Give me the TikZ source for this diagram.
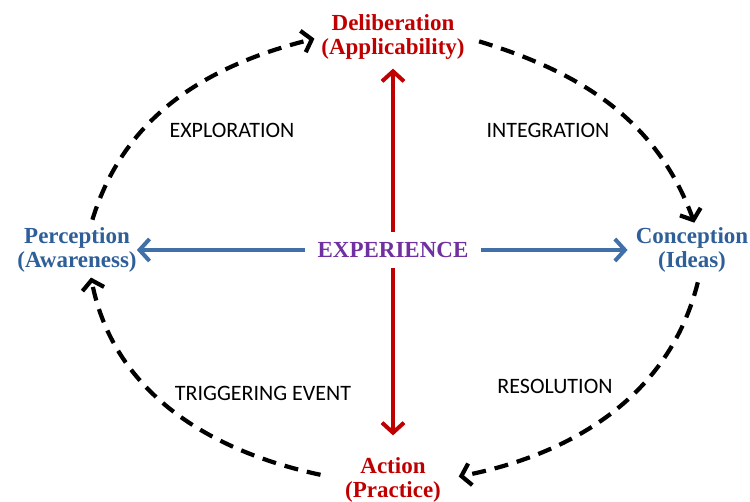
\documentclass[tikz,border=0pt]{standalone}
\usepackage{fontspec}
\setmainfont{Liberation Serif}
\newfontfamily\phasefont{Carlito}
\usepackage{xcolor}
\usetikzlibrary{arrows.meta}
\definecolor{delred}{HTML}{C00000}
\definecolor{nodeblue}{HTML}{2F5F98}
\definecolor{arrowblue}{HTML}{4170A8}
\definecolor{exppurple}{HTML}{7030A0}

\begin{document}
\begin{tikzpicture}[x=1pt,y=1pt,
    stage/.style={font=\fontsize{23}{24}\selectfont\bfseries,align=center,inner sep=0pt},
    phase/.style={font=\phasefont\fontsize{22}{24}\selectfont,inner sep=0pt},
    loopedge/.style={line width=4.2pt,dash pattern=on 14pt off 9pt,-{Straight Barb[length=9pt,width=22pt]}},
    crossarrow/.style={line width=4pt,-{Straight Barb[length=10pt,width=22pt]}}]
    \useasboundingbox (0,0) rectangle (750,502);
    \node[stage,text=delred] (delib) at (393,465) {Deliberation\\(Applicability)};
    \node[stage,text=delred] (action) at (393,22) {Action\\(Practice)};
    \node[stage,text=nodeblue] (percep) at (77,252) {Perception\\(Awareness)};
    \node[stage,text=nodeblue] (concep) at (692,252) {Conception\\(Ideas)};
    \node[stage,text=exppurple,inner xsep=12pt,inner ysep=10.5pt] (exp) at (393,252) {EXPERIENCE};
    \draw[crossarrow,delred,shorten >=9pt] (exp.north) -- (delib.south);
    \draw[crossarrow,delred,shorten >=22pt] (exp.south) -- (action.north);
    \draw[crossarrow,arrowblue] (exp.west) -- (percep.east);
    \draw[crossarrow,arrowblue,shorten >=8pt] (exp.east) -- (concep.west);
    \draw[loopedge,shorten <=8pt,shorten >=7pt] (percep.60) to[out=73,in=194] (delib.west);
    \draw[loopedge,shorten <=15pt,shorten >=5pt] (delib.east) to[out=-17,in=110] (concep.80);
    \draw[loopedge,shorten <=10pt,shorten >=18pt] (concep.-70) to[out=-104,in=11] (action.east);
    \draw[loopedge,shorten <=25pt,shorten >=5pt] (action.west) to[out=168,in=-79] (percep.-60);
    \node[phase] (explor) at (232,372) {EXPLORATION};
    \node[phase] (integ) at (548,372) {INTEGRATION};
    \node[phase] (trigger) at (263,109) {TRIGGERING EVENT};
    \node[phase] (resol) at (555,116) {RESOLUTION};
\end{tikzpicture}
\end{document}
